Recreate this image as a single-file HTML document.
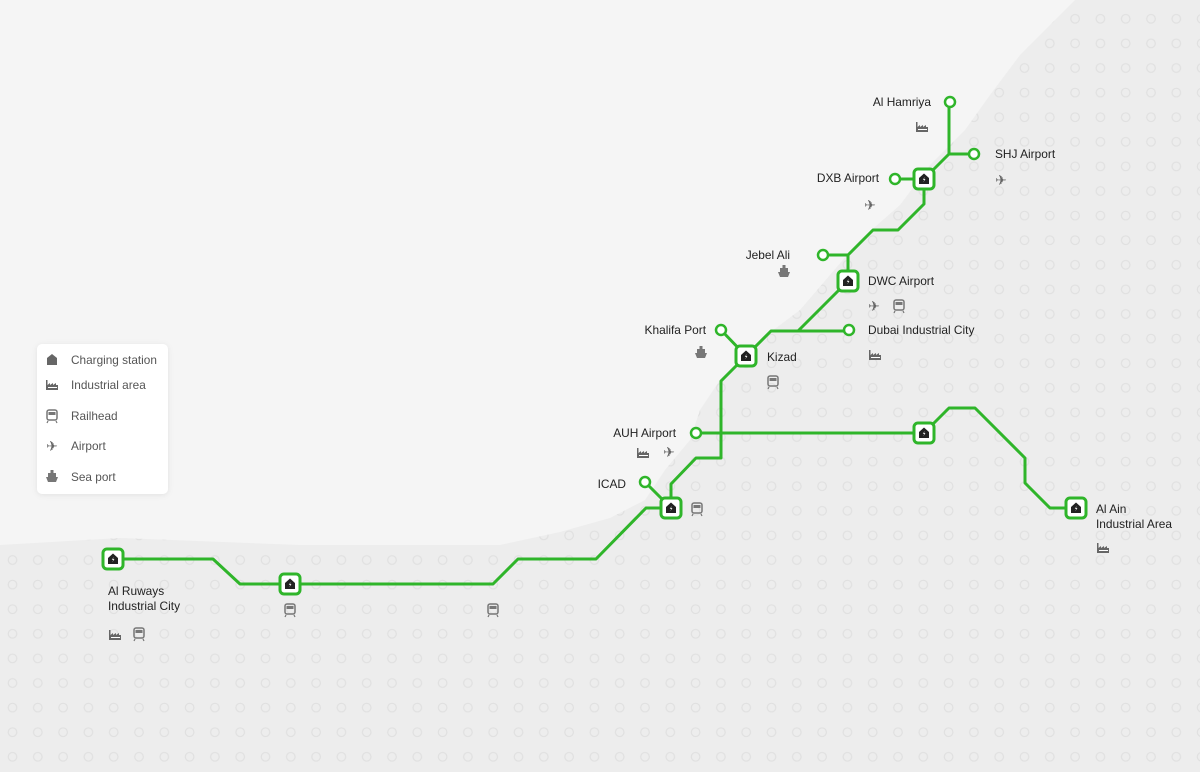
<!DOCTYPE html>
<html><head><meta charset="utf-8"><style>
html,body{margin:0;padding:0;background:#f4f4f4;}
body{width:1200px;height:772px;overflow:hidden;position:relative;font-family:"Liberation Sans",sans-serif;}
svg{position:absolute;left:0;top:0;}
.t{font-size:11.9px;fill:#222;}
.lg{font-size:11.8px;fill:#555;}
</style></head><body>
<svg width="1200" height="772" viewBox="0 0 1200 772" xmlns="http://www.w3.org/2000/svg">
<defs>
<pattern id="dots" x="0" y="0" width="25.3" height="24.6" patternUnits="userSpaceOnUse" patternTransform="translate(0,548)">
<circle cx="12.5" cy="12" r="4.3" fill="none" stroke="#e0e0e0" stroke-width="1.2"/>
</pattern>
<clipPath id="land"><path id="lp" d="M0,545 L120,538 L300,545 L500,545 L560,532 L610,518 L645,500 L665,470 L690,440 L700,410 L720,380 L760,340 L800,310 L830,275 L860,240 L900,205 L930,165 L965,130 L990,95 L1020,55 L1050,25 L1075,0 L1200,0 L1200,772 L0,772 Z"/></clipPath>
<g id="st"><rect x="-10" y="-10" width="20" height="20" rx="4" fill="#fff" stroke="#2fb52a" stroke-width="3"/><path d="M-5,5 L-5,-1 L0,-5.5 L5,-1 L5,5 Z" fill="#222"/><path d="M0.8,-2 L-1.2,0.8 L0.3,0.8 L-0.6,3.2 L1.4,0 L0,0 Z" fill="#fff"/></g>
<g id="ep"><circle r="5" fill="#fff" stroke="#2fb52a" stroke-width="2.5"/></g>
<g id="ind" fill="#666"><path d="M-6,5 L-6,-5 L-4.5,-5 L-4.5,0 L-2,-2 L-2,0 L1,-2 L1,0 L4,-2 L4,0 L6,0 L6,5 Z"/><rect x="-4" y="2" width="9" height="1" fill="#fff"/></g>
<g id="rail"><rect x="-5" y="-6" width="10" height="10" rx="2" fill="none" stroke="#777" stroke-width="1.5"/><rect x="-3.5" y="-4" width="7" height="3" fill="#777"/><path d="M-4,5 L-5,7 M4,5 L5,7" stroke="#777" stroke-width="1.2"/></g>
<g id="air"><text x="0" y="5" font-size="14" text-anchor="middle" fill="#666" font-family="DejaVu Sans">✈</text></g>
<g id="ship" fill="#777"><rect x="-1.5" y="-7" width="3" height="3"/><rect x="-4" y="-4" width="8" height="4"/><path d="M-6,0 L6,0 L4,5 L-4,5 Z"/></g>
</defs>
<rect width="1200" height="772" fill="#f5f5f5"/>
<use href="#lp" fill="#ededed"/>
<rect width="1200" height="772" fill="url(#dots)" clip-path="url(#land)"/>
<g fill="none" stroke="#2fb52a" stroke-width="3" stroke-linejoin="round">
<polyline points="113,559 213,559 240,584 493,584 518,559 596,559 646,508 671,508"/>
<polyline points="671,508 671,484 696,458 721,458 721,381 746,356 771,331 798,331 848,281 848,255 873,230 898,230 924,204 924,179 949,154 974,154"/>
<polyline points="798,331 849,331"/>
<polyline points="848,255 823,255"/>
<polyline points="895,179 924,179"/>
<polyline points="949,154 949,102"/>
<polyline points="721,330 746,356"/>
<polyline points="645,482 671,508"/>
<polyline points="696,433 924,433 949,408 975,408 1025,458 1025,483 1050,508 1076,508"/>
</g>
<use href="#ep" x="950" y="102"/><use href="#ep" x="974" y="154"/><use href="#ep" x="895" y="179"/>
<use href="#ep" x="823" y="255"/><use href="#ep" x="721" y="330"/><use href="#ep" x="849" y="330"/>
<use href="#ep" x="696" y="433"/><use href="#ep" x="645" y="482"/>
<use href="#st" x="113" y="559"/><use href="#st" x="290" y="584"/><use href="#st" x="671" y="508"/>
<use href="#st" x="746" y="356"/><use href="#st" x="848" y="281"/><use href="#st" x="924" y="179"/>
<use href="#st" x="924" y="433"/><use href="#st" x="1076" y="508"/>
<g class="t">
<text x="931" y="106" text-anchor="end">Al Hamriya</text>
<text x="995" y="158">SHJ Airport</text>
<text x="879" y="182" text-anchor="end">DXB Airport</text>
<text x="790" y="259" text-anchor="end">Jebel Ali</text>
<text x="868" y="285">DWC Airport</text>
<text x="706" y="334" text-anchor="end">Khalifa Port</text>
<text x="868" y="334">Dubai Industrial City</text>
<text x="767" y="361">Kizad</text>
<text x="676" y="437" text-anchor="end">AUH Airport</text>
<text x="626" y="488" text-anchor="end">ICAD</text>
<text x="1096" y="513">Al Ain</text>
<text x="1096" y="528">Industrial Area</text>
<text x="108" y="595">Al Ruways</text>
<text x="108" y="610">Industrial City</text>
</g>
<use href="#ind" x="922" y="127"/><use href="#air" x="1001" y="180"/><use href="#air" x="870" y="205"/>
<use href="#ship" x="784" y="272"/><use href="#air" x="874" y="306"/><use href="#rail" x="899" y="306"/>
<use href="#ship" x="701" y="353"/><use href="#ind" x="875" y="355"/><use href="#rail" x="773" y="382"/>
<use href="#ind" x="643" y="453"/><use href="#air" x="669" y="452"/><use href="#rail" x="697" y="509"/>
<use href="#ind" x="1103" y="548"/><use href="#rail" x="290" y="610"/><use href="#rail" x="493" y="610"/>
<use href="#ind" x="115" y="635"/><use href="#rail" x="139" y="634"/>
<rect x="37" y="344" width="131" height="150" rx="5" fill="#fff" filter="drop-shadow(0 1px 3px rgba(0,0,0,0.08))"/>
<path d="M47,365 L47,358 L52,354 L57,358 L57,365 Z" fill="#666"/>
<use href="#ind" x="52" y="385"/><use href="#rail" x="52" y="416"/><use href="#air" x="52" y="446"/><use href="#ship" x="52" y="477"/>
<g class="lg"><text x="71" y="364">Charging station</text><text x="71" y="389">Industrial area</text><text x="71" y="420">Railhead</text><text x="71" y="450">Airport</text><text x="71" y="481">Sea port</text></g>
</svg>
</body></html>
